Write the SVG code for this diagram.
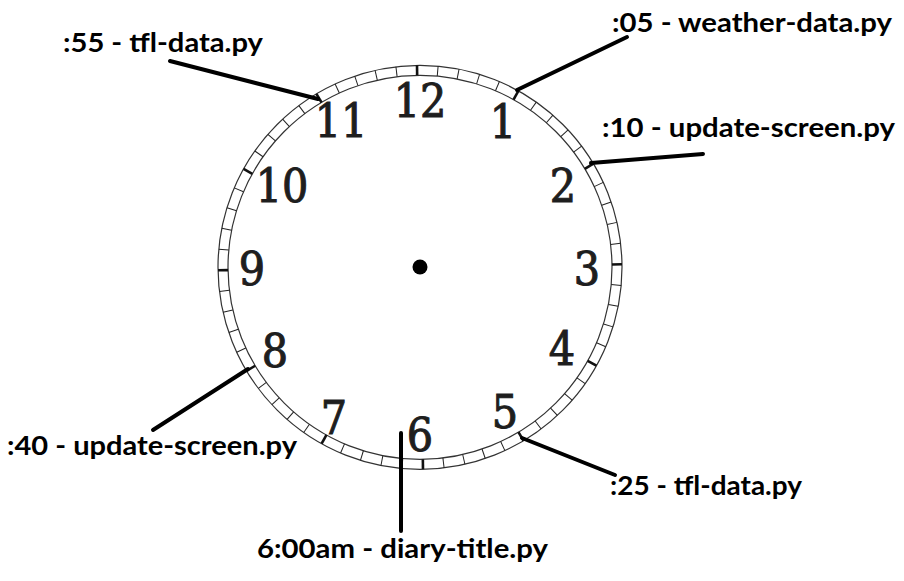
<svg xmlns="http://www.w3.org/2000/svg" width="904" height="581" viewBox="0 0 904 581">
<style>
.ring{fill:none;stroke:#333;stroke-width:1.2}
.t{stroke:#222;stroke-width:1}
.h{stroke:#111;stroke-width:2.6}
.num{font-family:"DejaVu Serif","Liberation Serif",serif;font-stretch:condensed;font-size:46px;fill:#1e1e1e;stroke:#1e1e1e;stroke-width:1;text-anchor:middle}
.lbl{font-family:Lato,"Open Sans","Liberation Sans",sans-serif;font-weight:bold;font-size:27px;fill:#000}
.lead{stroke:#000;stroke-width:4;stroke-linecap:round;fill:none}
</style>
<rect width="904" height="581" fill="#fff"/>
<g id="clock">
<circle class="ring" cx="420" cy="267.3" r="202"/>
<circle class="ring" cx="420" cy="267.3" r="192"/>
<g transform="translate(420,267.3) rotate(-0.85)">
<line class="h" x1="0" y1="-192" x2="0" y2="-202" transform="rotate(0)"/>
<line class="t" x1="0" y1="-192" x2="0" y2="-202" transform="rotate(6)"/>
<line class="t" x1="0" y1="-192" x2="0" y2="-202" transform="rotate(12)"/>
<line class="t" x1="0" y1="-192" x2="0" y2="-202" transform="rotate(18)"/>
<line class="t" x1="0" y1="-192" x2="0" y2="-202" transform="rotate(24)"/>
<line class="h" x1="0" y1="-192" x2="0" y2="-202" transform="rotate(30)"/>
<line class="t" x1="0" y1="-192" x2="0" y2="-202" transform="rotate(36)"/>
<line class="t" x1="0" y1="-192" x2="0" y2="-202" transform="rotate(42)"/>
<line class="t" x1="0" y1="-192" x2="0" y2="-202" transform="rotate(48)"/>
<line class="t" x1="0" y1="-192" x2="0" y2="-202" transform="rotate(54)"/>
<line class="h" x1="0" y1="-192" x2="0" y2="-202" transform="rotate(60)"/>
<line class="t" x1="0" y1="-192" x2="0" y2="-202" transform="rotate(66)"/>
<line class="t" x1="0" y1="-192" x2="0" y2="-202" transform="rotate(72)"/>
<line class="t" x1="0" y1="-192" x2="0" y2="-202" transform="rotate(78)"/>
<line class="t" x1="0" y1="-192" x2="0" y2="-202" transform="rotate(84)"/>
<line class="h" x1="0" y1="-192" x2="0" y2="-202" transform="rotate(90)"/>
<line class="t" x1="0" y1="-192" x2="0" y2="-202" transform="rotate(96)"/>
<line class="t" x1="0" y1="-192" x2="0" y2="-202" transform="rotate(102)"/>
<line class="t" x1="0" y1="-192" x2="0" y2="-202" transform="rotate(108)"/>
<line class="t" x1="0" y1="-192" x2="0" y2="-202" transform="rotate(114)"/>
<line class="h" x1="0" y1="-192" x2="0" y2="-202" transform="rotate(120)"/>
<line class="t" x1="0" y1="-192" x2="0" y2="-202" transform="rotate(126)"/>
<line class="t" x1="0" y1="-192" x2="0" y2="-202" transform="rotate(132)"/>
<line class="t" x1="0" y1="-192" x2="0" y2="-202" transform="rotate(138)"/>
<line class="t" x1="0" y1="-192" x2="0" y2="-202" transform="rotate(144)"/>
<line class="h" x1="0" y1="-192" x2="0" y2="-202" transform="rotate(150)"/>
<line class="t" x1="0" y1="-192" x2="0" y2="-202" transform="rotate(156)"/>
<line class="t" x1="0" y1="-192" x2="0" y2="-202" transform="rotate(162)"/>
<line class="t" x1="0" y1="-192" x2="0" y2="-202" transform="rotate(168)"/>
<line class="t" x1="0" y1="-192" x2="0" y2="-202" transform="rotate(174)"/>
<line class="h" x1="0" y1="-192" x2="0" y2="-202" transform="rotate(180)"/>
<line class="t" x1="0" y1="-192" x2="0" y2="-202" transform="rotate(186)"/>
<line class="t" x1="0" y1="-192" x2="0" y2="-202" transform="rotate(192)"/>
<line class="t" x1="0" y1="-192" x2="0" y2="-202" transform="rotate(198)"/>
<line class="t" x1="0" y1="-192" x2="0" y2="-202" transform="rotate(204)"/>
<line class="h" x1="0" y1="-192" x2="0" y2="-202" transform="rotate(210)"/>
<line class="t" x1="0" y1="-192" x2="0" y2="-202" transform="rotate(216)"/>
<line class="t" x1="0" y1="-192" x2="0" y2="-202" transform="rotate(222)"/>
<line class="t" x1="0" y1="-192" x2="0" y2="-202" transform="rotate(228)"/>
<line class="t" x1="0" y1="-192" x2="0" y2="-202" transform="rotate(234)"/>
<line class="h" x1="0" y1="-192" x2="0" y2="-202" transform="rotate(240)"/>
<line class="t" x1="0" y1="-192" x2="0" y2="-202" transform="rotate(246)"/>
<line class="t" x1="0" y1="-192" x2="0" y2="-202" transform="rotate(252)"/>
<line class="t" x1="0" y1="-192" x2="0" y2="-202" transform="rotate(258)"/>
<line class="t" x1="0" y1="-192" x2="0" y2="-202" transform="rotate(264)"/>
<line class="h" x1="0" y1="-192" x2="0" y2="-202" transform="rotate(270)"/>
<line class="t" x1="0" y1="-192" x2="0" y2="-202" transform="rotate(276)"/>
<line class="t" x1="0" y1="-192" x2="0" y2="-202" transform="rotate(282)"/>
<line class="t" x1="0" y1="-192" x2="0" y2="-202" transform="rotate(288)"/>
<line class="t" x1="0" y1="-192" x2="0" y2="-202" transform="rotate(294)"/>
<line class="h" x1="0" y1="-192" x2="0" y2="-202" transform="rotate(300)"/>
<line class="t" x1="0" y1="-192" x2="0" y2="-202" transform="rotate(306)"/>
<line class="t" x1="0" y1="-192" x2="0" y2="-202" transform="rotate(312)"/>
<line class="t" x1="0" y1="-192" x2="0" y2="-202" transform="rotate(318)"/>
<line class="t" x1="0" y1="-192" x2="0" y2="-202" transform="rotate(324)"/>
<line class="h" x1="0" y1="-192" x2="0" y2="-202" transform="rotate(330)"/>
<line class="t" x1="0" y1="-192" x2="0" y2="-202" transform="rotate(336)"/>
<line class="t" x1="0" y1="-192" x2="0" y2="-202" transform="rotate(342)"/>
<line class="t" x1="0" y1="-192" x2="0" y2="-202" transform="rotate(348)"/>
<line class="t" x1="0" y1="-192" x2="0" y2="-202" transform="rotate(354)"/>
</g>
<circle cx="420" cy="267" r="7.5" fill="#000"/>
<text class="num" x="420" y="117">12</text>
<text class="num" x="503" y="138">1</text>
<text class="num" x="563" y="202">2</text>
<text class="num" x="587" y="285">3</text>
<text class="num" x="562" y="365">4</text>
<text class="num" x="505" y="428">5</text>
<text class="num" x="420" y="451">6</text>
<text class="num" x="334" y="434">7</text>
<text class="num" x="275" y="367">8</text>
<text class="num" x="252" y="285">9</text>
<text class="num" x="282" y="202">10</text>
<text class="num" x="341" y="137">11</text>
</g>
<g id="connectors">
<line class="lead" x1="170" y1="61" x2="318" y2="99"/>
<line class="lead" x1="627" y1="37" x2="517" y2="90"/>
<line class="lead" x1="703" y1="154" x2="591" y2="163"/>
<line class="lead" x1="153" y1="430" x2="248" y2="369"/>
<line class="lead" x1="615" y1="475" x2="522" y2="438"/>
<line class="lead" x1="401" y1="433" x2="401" y2="531"/>
</g>
<g id="label-55"><text class="lbl" x="63" y="52" textLength="200" lengthAdjust="spacingAndGlyphs">:55 - tfl-data.py</text></g>
<g id="label-05"><text class="lbl" x="612" y="32" textLength="280" lengthAdjust="spacingAndGlyphs">:05 - weather-data.py</text></g>
<g id="label-10"><text class="lbl" x="602" y="137" textLength="293" lengthAdjust="spacingAndGlyphs">:10 - update-screen.py</text></g>
<g id="label-40"><text class="lbl" x="7" y="455" textLength="290" lengthAdjust="spacingAndGlyphs">:40 - update-screen.py</text></g>
<g id="label-25"><text class="lbl" x="610" y="495" textLength="192" lengthAdjust="spacingAndGlyphs">:25 - tfl-data.py</text></g>
<g id="label-600"><text class="lbl" x="257" y="558" textLength="291" lengthAdjust="spacingAndGlyphs">6:00am - diary-title.py</text></g>
</svg>
